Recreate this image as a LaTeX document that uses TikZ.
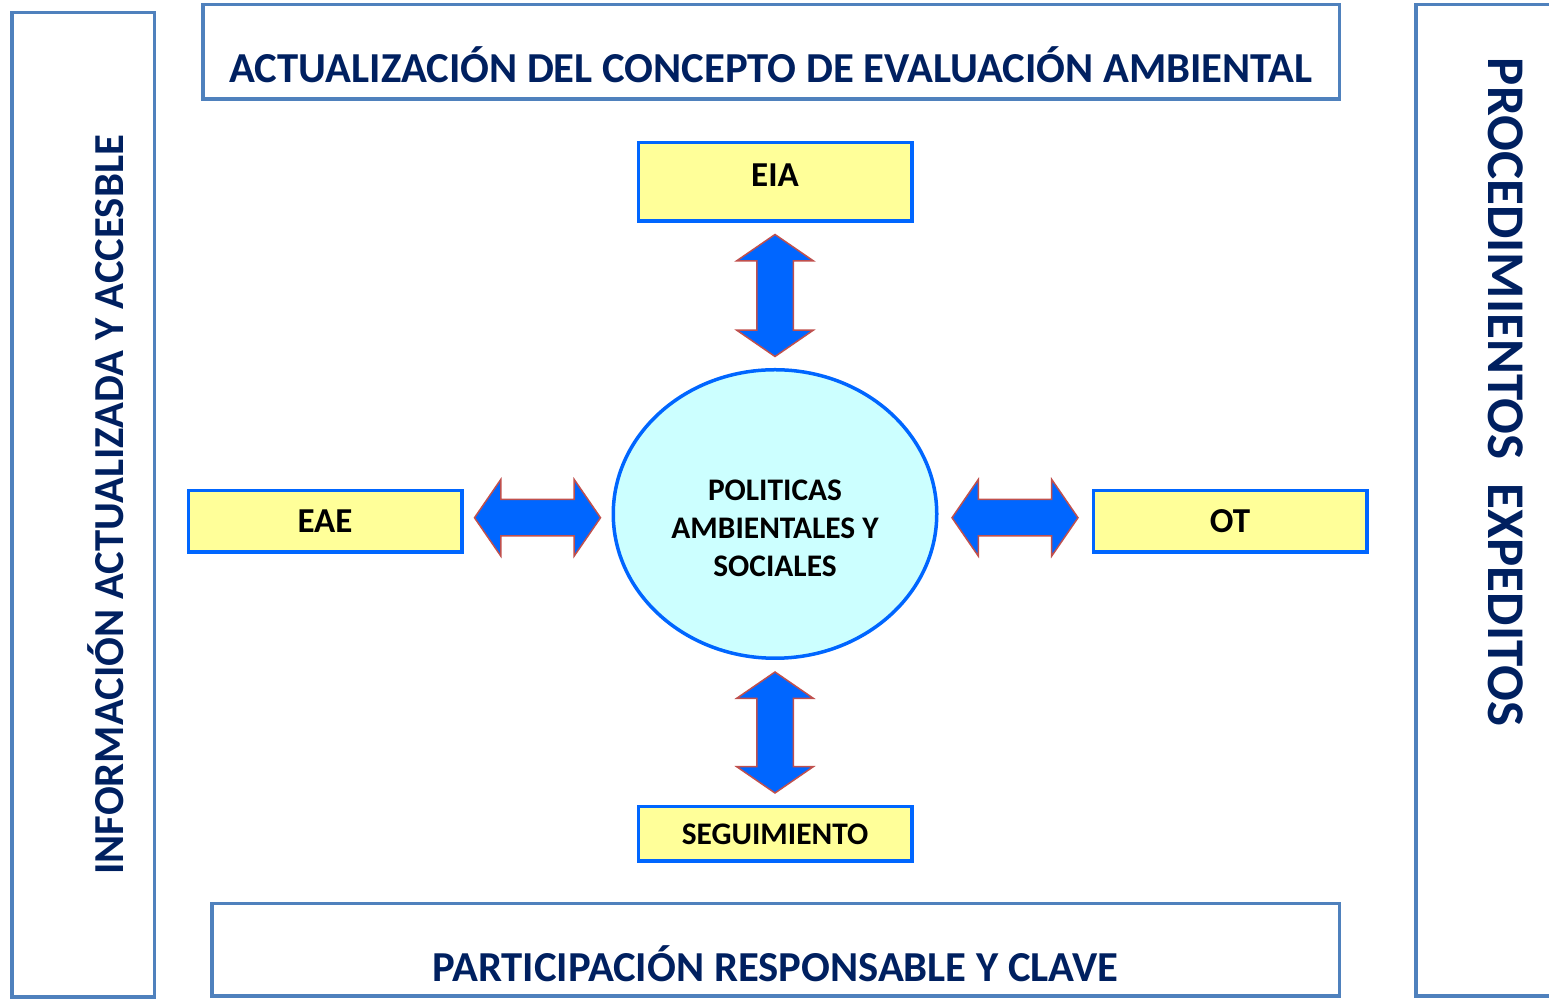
\documentclass[tikz,border=0pt]{standalone}
\usepackage{fontspec}
\setmainfont{Carlito}
\usetikzlibrary{positioning,shapes.geometric,shapes.arrows,calc}
\definecolor{framec}{HTML}{4F81BD}
\definecolor{navy}{HTML}{002060}
\definecolor{boxfill}{HTML}{FFFF99}
\definecolor{boxdraw}{HTML}{0066FF}
\definecolor{polfill}{HTML}{CCFFFF}
\definecolor{arrfill}{HTML}{0066FF}
\definecolor{arrdraw}{HTML}{C0504D}
\tikzset{
  frm/.style={draw=framec,line width=3.5pt,inner sep=0pt},
  ttl/.style={font=\fontsize{42.7}{50}\selectfont\bfseries,text=navy,inner sep=0pt},
  box/.style={draw=boxdraw,fill=boxfill,line width=3.5pt,minimum width=273.5pt,inner sep=0pt,
    font=\fontsize{35}{40}\selectfont\bfseries,text=black},
  pol/.style={ellipse,draw=boxdraw,fill=polfill,line width=3.5pt,minimum width=323.5pt,
    minimum height=288.5pt,inner sep=0pt},
  poltxt/.style={align=center,inner sep=0pt,font=\fontsize{31.4}{38}\selectfont\bfseries,text=black},
  dbl/.style={double arrow,draw=arrdraw,fill=arrfill,line width=1.5pt,inner xsep=0pt,
    inner ysep=17.5pt,double arrow head extend=20pt,double arrow tip angle=111},
  node distance=145pt
}
\begin{document}
\begin{tikzpicture}[x=1pt,y=1pt]
  \useasboundingbox (0,0) rectangle (1549,1000);
  \node[frm,minimum width=1136.5pt,minimum height=94.5pt] (topf) at (771,948) {};
  \node[frm,minimum width=1127.5pt,minimum height=92.5pt] (botf) at (775.5,50) {};
  \node[frm,minimum width=142.5pt,minimum height=984.5pt] (leftf) at (83,495) {};
  \node[frm,minimum width=184pt,minimum height=991.5pt] (rightf) at (1508,499.5) {};
  \node[ttl,anchor=base] (ttop) at ([yshift=18pt]topf.south) {ACTUALIZACIÓN DEL CONCEPTO DE EVALUACIÓN AMBIENTAL};
  \node[ttl,anchor=base] (tbot) at ([yshift=16pt]botf.south) {PARTICIPACIÓN RESPONSABLE Y CLAVE};
  \node[ttl,anchor=base,rotate=90] (tleft) at ([xshift=-33pt]leftf.east) {INFORMACIÓN ACTUALIZADA Y ACCESBLE};
  \node[ttl,anchor=base,rotate=-90,font=\fontsize{53}{60}\selectfont\bfseries] (tright)
    at ([xshift=74pt,yshift=108.5pt]rightf.west) {PROCEDIMIENTOS\ \ EXPEDITOS};
  \node[pol] (pol) at (775,486) {};
  \node[poltxt] (poltext) at ([yshift=-14pt]pol.center) {POLITICAS\\AMBIENTALES Y\\SOCIALES};
  \node[box,minimum height=78.5pt,text depth=14pt,above=of pol] (eia) {EIA};
  \node[box,minimum height=61.5pt,left=148pt of pol,yshift=-7.5pt] (eae) {EAE};
  \node[box,minimum height=61.5pt,right=153pt of pol,yshift=-7.5pt] (ot) {OT};
  \node[box,minimum height=54.5pt,below=of pol,font=\fontsize{31.4}{36}\selectfont\bfseries] (seg) {SEGUIMIENTO};
  \foreach \a/\b/\r/\l in {eia.south/pol.north/90/122,pol.south/seg.north/90/121,
    eae.east/pol.west/0/126,pol.east/ot.west/0/126}{
    \node[dbl,rotate=\r,minimum height=\l pt] at ($(\a)!0.5!(\b)$) {};}
\end{tikzpicture}
\end{document}
